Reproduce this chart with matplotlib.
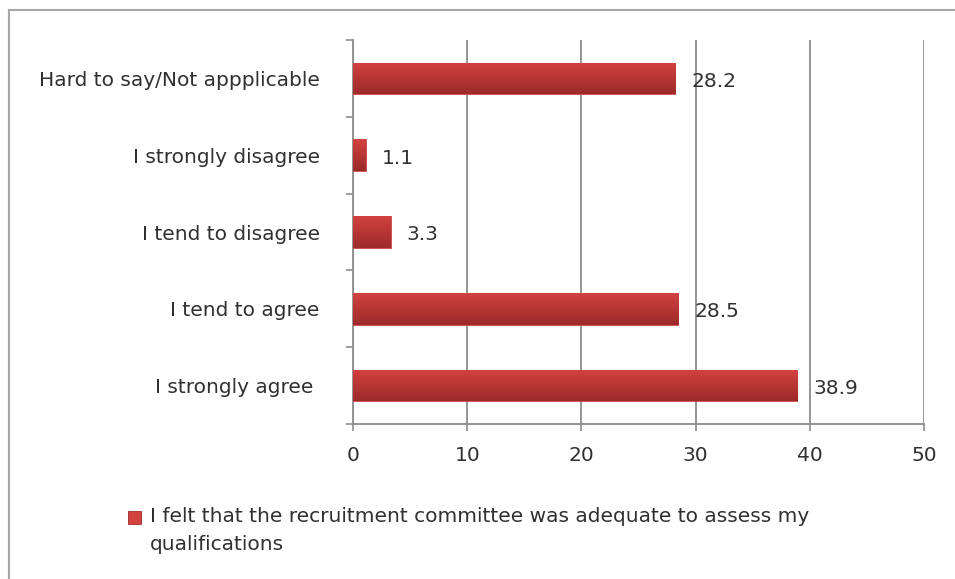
import matplotlib
matplotlib.use("Agg")
import matplotlib.pyplot as plt
import numpy as np
from matplotlib.colors import LinearSegmentedColormap
from matplotlib.lines import Line2D
from matplotlib.patches import Rectangle

plt.rcParams['font.family'] = ['DejaVu Sans']

categories = ["I strongly agree ", "I tend to agree", "I tend to disagree",
              "I strongly disagree", "Hard to say/Not appplicable"]
values = [38.9, 28.5, 3.3, 1.1, 28.2]
x_ticks = [0, 10, 20, 30, 40, 50]
series_label = "I felt that the recruitment committee was adequate to assess my\nqualifications"

bar_top = "#d2423f"
bar_bottom = "#9c2a2a"
grid_col = "#8c8c8c"
text_col = "#303030"
fs = 14.5

fig = plt.figure(figsize=(9.55, 5.79), dpi=100)
ax = fig.add_axes([353 / 955, 155 / 579, (924 - 353) / 955, (424 - 40) / 579])

bars = ax.barh(categories, values, height=0.41, color=bar_top,
               edgecolor="#c94846", linewidth=0.6, zorder=3)

# vertical shading on each bar, clipped to the bar shape
cmap = LinearSegmentedColormap.from_list("bargrad", [bar_bottom, bar_top])
grad = np.linspace(0, 1, 64).reshape(-1, 1)
for b in bars:
    x0, y0 = b.get_x(), b.get_y()
    w, h = b.get_width(), b.get_height()
    im = ax.imshow(grad, cmap=cmap, extent=(x0, x0 + w, y0, y0 + h),
                   origin="lower", aspect="auto", zorder=3.5, interpolation="bilinear")
    im.set_clip_path(b)

ax.set_xlim(0, 50)
ax.set_ylim(-0.5, len(categories) - 0.5)
ax.set_xticks(x_ticks)
ax.set_xticklabels([str(t) for t in x_ticks])

# category boundaries carry the tick marks, centres carry the labels
ax.set_yticks(np.arange(-0.5, len(categories), 1.0), minor=True)
ax.tick_params(axis="y", which="major", length=0, pad=24, labelsize=fs, labelcolor=text_col)
ax.tick_params(axis="y", which="minor", length=5, width=1.2, color=grid_col, direction="out")
ax.tick_params(axis="x", which="major", length=5, width=1.2, color=grid_col,
               direction="out", pad=11, labelsize=fs, labelcolor=text_col)

ax.xaxis.grid(True, color=grid_col, linewidth=1.3, zorder=0)
ax.set_axisbelow(True)
for side in ("top", "right"):
    ax.spines[side].set_visible(False)
for side in ("left", "bottom"):
    ax.spines[side].set_color(grid_col)
    ax.spines[side].set_linewidth(1.3)

for b, v in zip(bars, values):
    ax.annotate(f"{v:.1f}", xy=(b.get_width(), b.get_y() + b.get_height() / 2),
                xytext=(16, -3), textcoords="offset pixels", va="center", ha="left",
                fontsize=fs, color=text_col, zorder=5)

# legend: swatch plus wrapped series text
fig.add_artist(Rectangle((128 / 955, 1 - 524 / 579), 13 / 955, 13 / 579,
                         transform=fig.transFigure, facecolor=bar_top,
                         edgecolor=bar_bottom, linewidth=0.6))
fig.text(150 / 955, 1 - 531 / 579, series_label, ha="left", va="center",
         fontsize=fs, color=text_col, linespacing=1.6,
         transform=fig.transFigure)

# chart frame
fig.add_artist(Line2D([9 / 955, 1.0], [1 - 10 / 579, 1 - 10 / 579],
                      transform=fig.transFigure, color="#a6a6a6", linewidth=1.5))
fig.add_artist(Line2D([9 / 955, 9 / 955], [0.0, 1 - 10 / 579],
                      transform=fig.transFigure, color="#a6a6a6", linewidth=1.5))

fig.savefig("out.png", dpi=100)
